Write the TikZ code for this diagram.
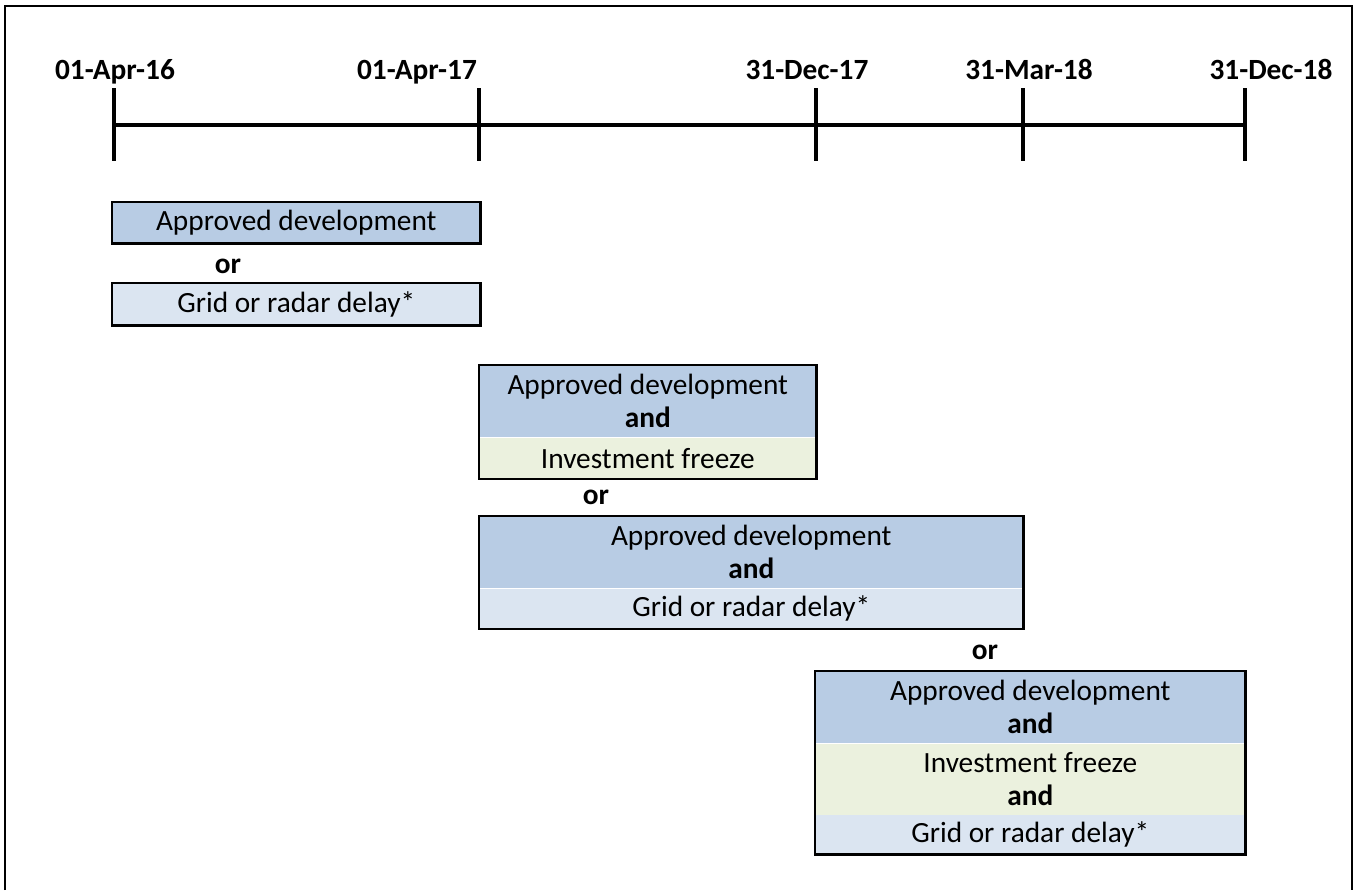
\documentclass[tikz,border=0pt]{standalone}
\usepackage{fontspec}
\setmainfont{Carlito}
\definecolor{devblue}{HTML}{B8CCE4}
\definecolor{delayblue}{HTML}{DBE5F1}
\definecolor{freezegreen}{HTML}{EBF1DE}
\newcommand{\chartfont}{\fontsize{22}{24.75}\selectfont}
\tikzset{
  datelabel/.style = {font = \chartfont\bfseries, anchor = base, inner sep = 0pt},
  joiner/.style = {font = \chartfont\bfseries, inner sep = 0pt},
  part/.style = {anchor = north west, inner sep = 0pt, align = center},
  boxline/.style = {line width = 2pt},
}
\begin{document}
\begin{tikzpicture}[x = 0.75pt, y = -0.75pt, font = \chartfont]
  \useasboundingbox (0,0) rectangle (1357,890);
  % frame, open at the bottom
  \draw [line width = 1.5pt] (5,890) -- (5,6) -- (1352,6) -- (1352,890);

  % time axis
  \coordinate (t1) at (114,125);
  \coordinate (t2) at (479,125);
  \coordinate (t3) at (816,125);
  \coordinate (t4) at (1023,125);
  \coordinate (t5) at (1245,125);
  \draw [line width = 2.8pt] (t1) -- (t5);
  \foreach \t in {t1,t2,t3,t4,t5}
    \draw [line width = 2.8pt] (\t) ++(0,-37) -- ++(0,73);
  \node [datelabel] (d1) at (115,79) {01-Apr-16};
  \node [datelabel] (d2) at (417,79) {01-Apr-17};
  \node [datelabel] (d3) at (807,79) {31-Dec-17};
  \node [datelabel] (d4) at (1029,79) {31-Mar-18};
  \node [datelabel] (d5) at (1271,79) {31-Dec-18};

  % first period
  \node [part, fill = devblue, minimum width = 276pt, minimum height = 30.75pt]
    (a1) at (112,202) {Approved development};
  \draw [boxline] (a1.north west) rectangle (a1.south east);
  \node [joiner] (or1) at (228,266) {or};
  \node [part, fill = delayblue, minimum width = 276pt, minimum height = 31.5pt]
    (a2) at (112,283) {Grid or radar delay*};
  \draw [boxline] (a2.north west) rectangle (a2.south east);

  % second period
  \node [part, fill = devblue, minimum width = 252.75pt, minimum height = 54pt]
    (b1) at (479,365) {Approved development\\ \textbf{and}};
  \node [part, fill = freezegreen, minimum width = 252.75pt, minimum height = 30.75pt]
    (b2) at (b1.south west) {Investment freeze};
  \draw [boxline] (b1.north west) rectangle (b2.south east);
  \node [joiner] (or2) at (596,497) {or};
  \node [part, fill = devblue, minimum width = 408pt, minimum height = 54pt]
    (c1) at (479,516) {Approved development\\ \textbf{and}};
  \node [part, fill = delayblue, minimum width = 408pt, minimum height = 30pt]
    (c2) at (c1.south west) {Grid or radar delay*};
  \draw [boxline] (c1.north west) rectangle (c2.south east);

  % third period
  \node [joiner] (or3) at (985,652) {or};
  \node [part, fill = devblue, minimum width = 322.5pt, minimum height = 54pt]
    (e1) at (815,671) {Approved development\\ \textbf{and}};
  \node [part, fill = freezegreen, minimum width = 322.5pt, minimum height = 53.25pt]
    (e2) at (e1.south west) {Investment freeze\\ \textbf{and}};
  \node [part, fill = delayblue, minimum width = 322.5pt, minimum height = 29.25pt]
    (e3) at (e2.south west) {Grid or radar delay*};
  \draw [boxline] (e1.north west) rectangle (e3.south east);
\end{tikzpicture}
\end{document}
